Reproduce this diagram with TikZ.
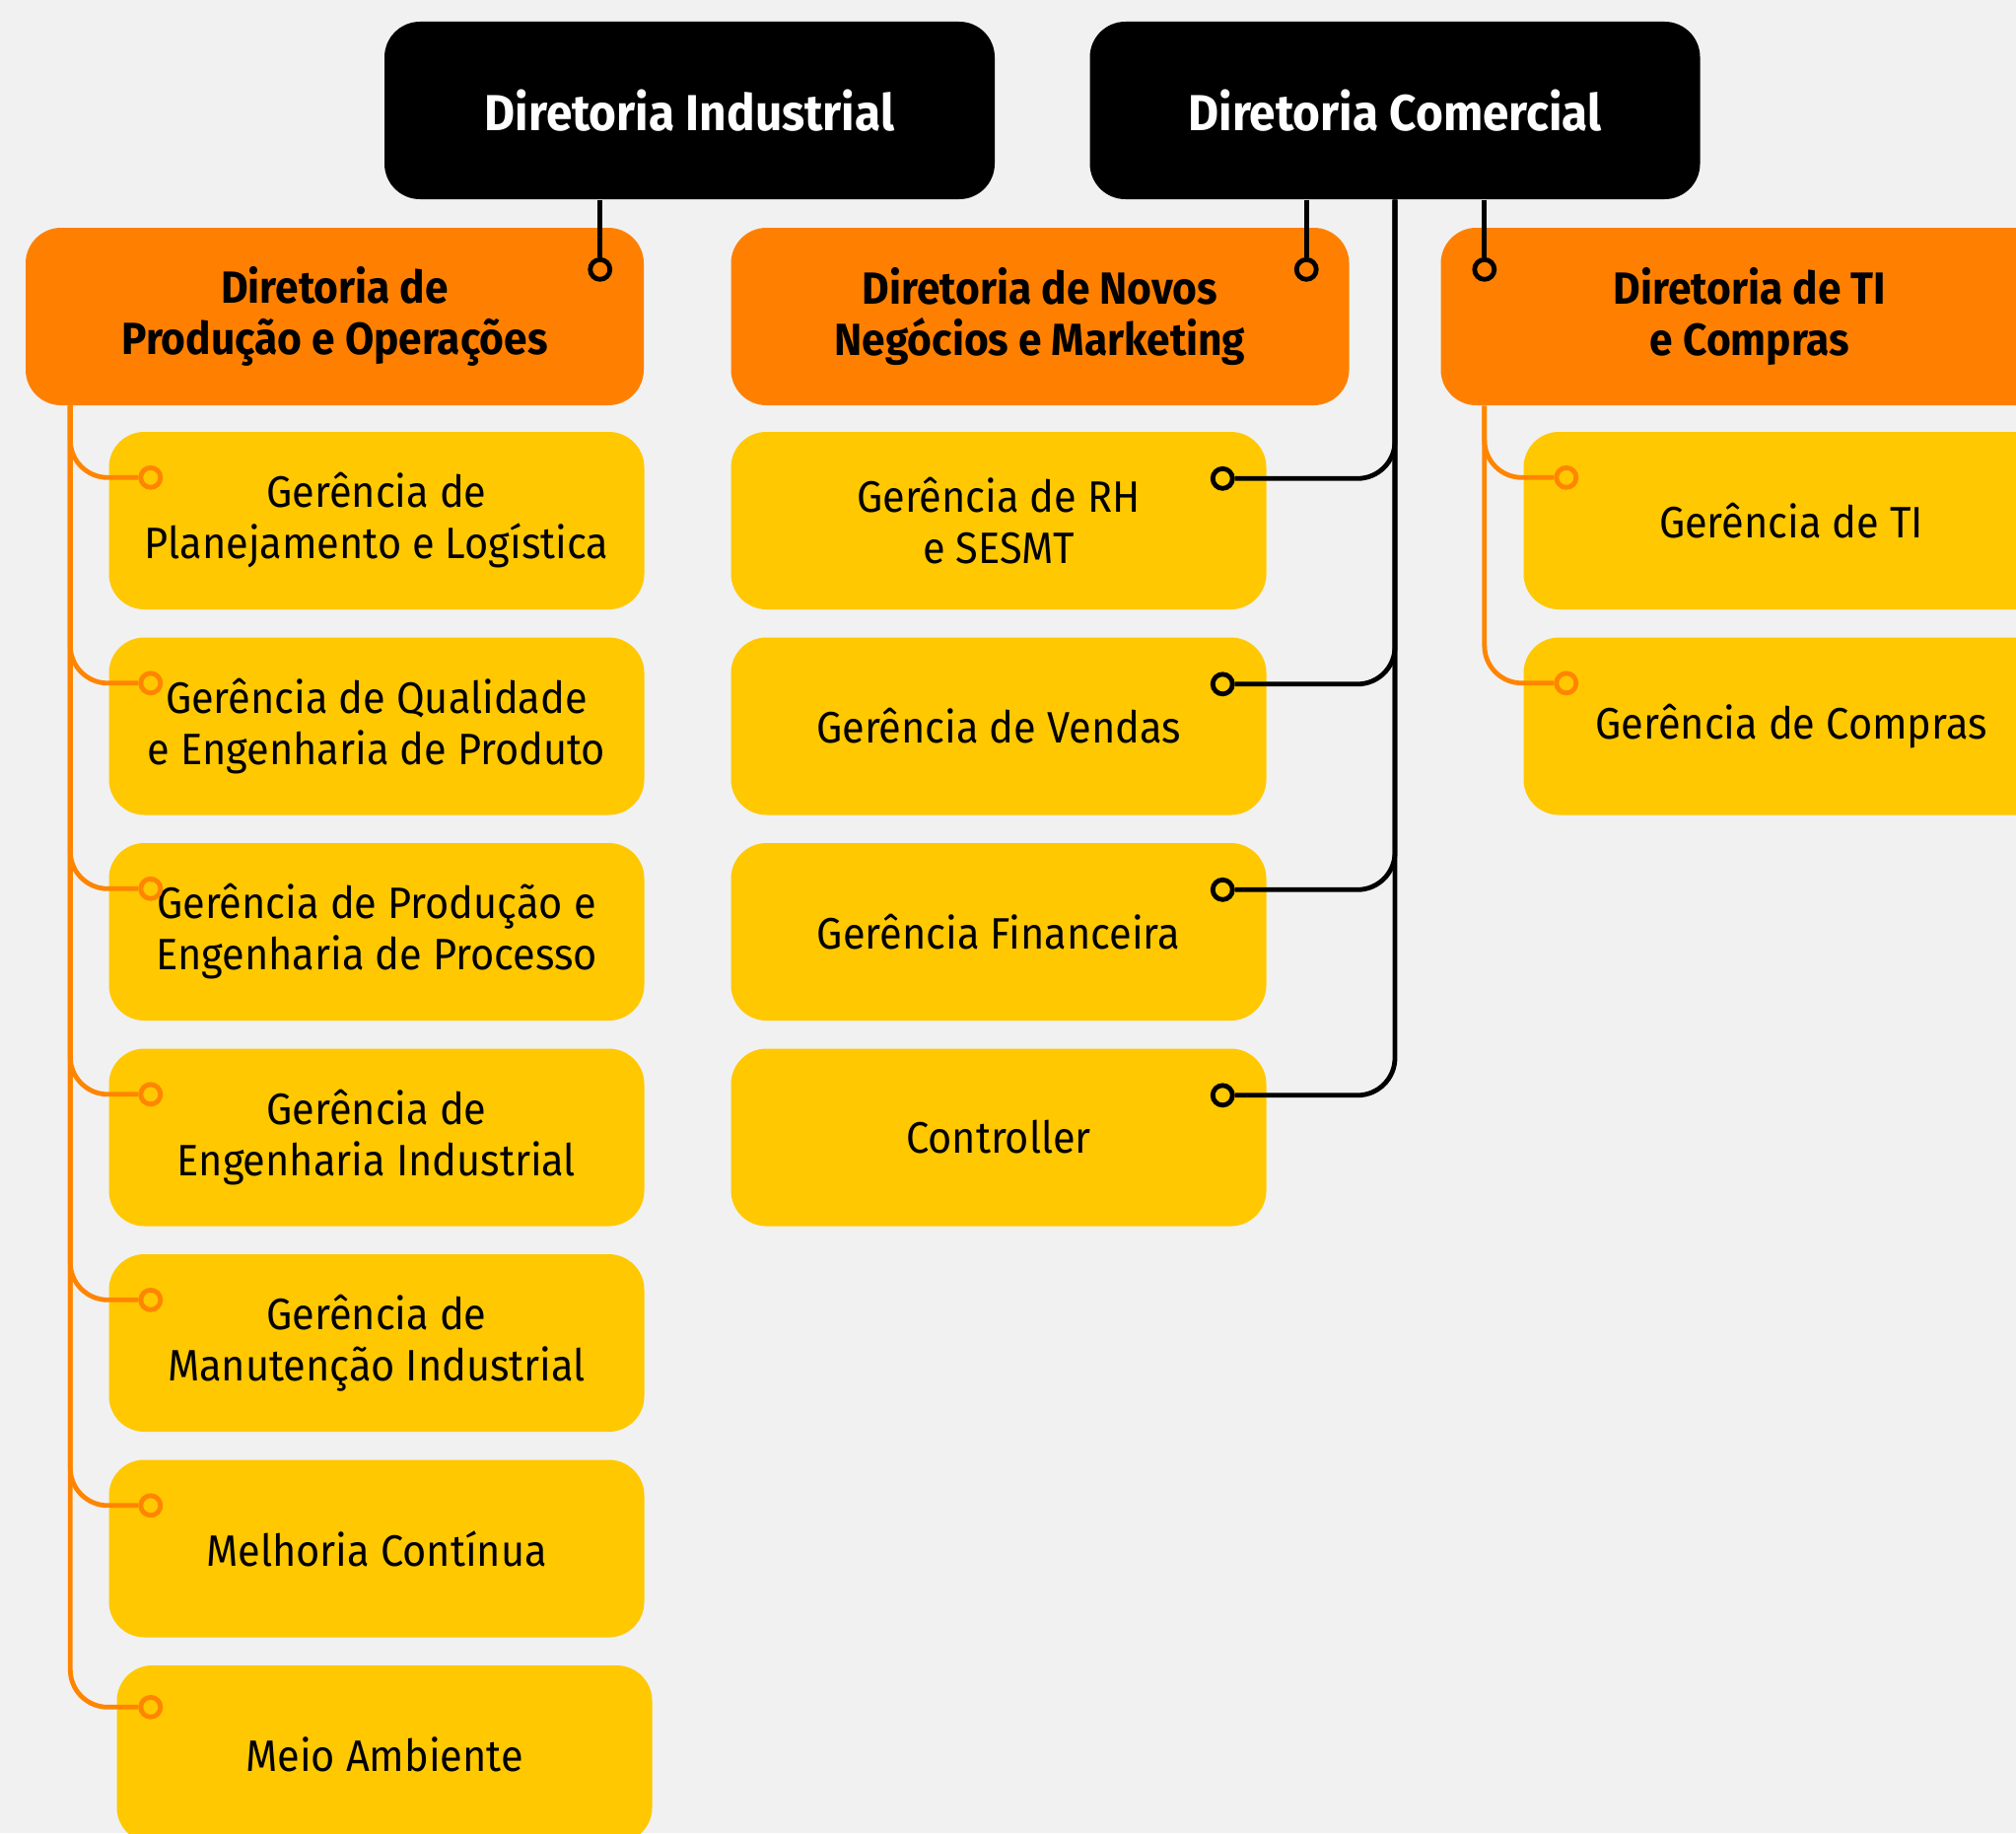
\documentclass[tikz,border=0pt]{standalone}
\usepackage{fontspec}
\setmainfont{Fira Sans}[FakeStretch=0.93]
\usetikzlibrary{positioning}
\definecolor{fundo}{RGB}{241,241,241}
\definecolor{laranja}{RGB}{255,128,0}
\definecolor{amarelo}{RGB}{255,200,0}
\definecolor{linhalar}{RGB}{255,133,0}
\tikzset{
	diretor/.style={rectangle, rounded corners=0.36cm, fill=black, text=white, minimum width=6.19cm, minimum height=1.8cm, align=center, font=\fontsize{14.6}{18}\selectfont\bfseries},
	diretoria/.style={rectangle, rounded corners=0.36cm, fill=laranja, minimum width=6.27cm, minimum height=1.8cm, align=center, font=\fontsize{13}{14.8}\selectfont\bfseries},
	gerencia/.style={rectangle, rounded corners=0.36cm, fill=amarelo, minimum width=5.43cm, minimum height=1.8cm, align=center, font=\fontsize{12.7}{14.8}\selectfont},
	% pontos de ligacao
	bdot/.style={circle, draw=black, fill=laranja, line width=0.048cm, inner sep=0pt, minimum size=0.2cm},
	odot/.style={circle, draw=linhalar, fill=amarelo, line width=0.048cm, inner sep=0pt, minimum size=0.2cm},
}

\begin{document}
\begin{tikzpicture}[node distance=2.085cm]
	\useasboundingbox (0,0) rectangle (20.45,-18.59);
	\clip (0,0) rectangle (20.45,-18.59);
	\fill[fundo] (0,0) rectangle (20.45,-18.59);

	\node (di) [diretor] at (6.995,-1.12) {Diretoria Industrial};
	\node (dc) [diretor] at (14.15,-1.12) {Diretoria Comercial};

	\node (dpo) [diretoria] at (3.395,-3.21) {Diretoria de\\Produção e Operações};
	\node (dnm) [diretoria] at (10.55,-3.21) {Diretoria de Novos\\Negócios e Marketing};
	\node (dti) [diretoria] at (17.75,-3.21) {Diretoria de TI\\e Compras};

	% producao e operacoes
	\node (gpl) [gerencia] at (3.82,-5.28) {Gerência de\\Planejamento e Logística};
	\node (gqe) [gerencia, below of=gpl] {Gerência de Qualidade\\e Engenharia de Produto};
	\node (gpe) [gerencia, below of=gqe] {Gerência de Produção e\\Engenharia de Processo};
	\node (gei) [gerencia, below of=gpe] {Gerência de\\Engenharia Industrial};
	\node (gmi) [gerencia, below of=gei] {Gerência de\\Manutenção Industrial};
	\node (mcn) [gerencia, below of=gmi] {Melhoria Contínua};
	\node (mam) [gerencia, below of=mcn, xshift=0.08cm] {Meio Ambiente};

	% comercial
	\node (grh) [gerencia] at (10.13,-5.28) {Gerência de RH\\e SESMT};
	\node (gve) [gerencia, below of=grh] {Gerência de Vendas};
	\node (gfi) [gerencia, below of=gve] {Gerência Financeira};
	\node (ctl) [gerencia, below of=gfi] {Controller};

	% TI e compras
	\node (gti) [gerencia] at (18.17,-5.28) {Gerência de TI};
	\node (gco) [gerencia, below of=gti] {Gerência de Compras};

	\node (kpo) [bdot] at ([xshift=-0.45cm,yshift=-0.43cm]dpo.north east) {};
	\node (knm) [bdot] at ([xshift=-0.44cm,yshift=-0.43cm]dnm.north east) {};
	\node (kti) [bdot] at ([xshift=0.45cm,yshift=-0.43cm]dti.north west) {};
	\node (krh) [bdot, fill=amarelo] at ([xshift=-0.45cm,yshift=-0.48cm]grh.north east) {};
	\node (kve) [bdot, fill=amarelo] at ([xshift=-0.45cm,yshift=-0.48cm]gve.north east) {};
	\node (kfi) [bdot, fill=amarelo] at ([xshift=-0.45cm,yshift=-0.48cm]gfi.north east) {};
	\node (kct) [bdot, fill=amarelo] at ([xshift=-0.45cm,yshift=-0.48cm]ctl.north east) {};

	\node (kpl) [odot] at ([xshift=0.43cm,yshift=-0.47cm]gpl.north west) {};
	\node (kqe) [odot] at ([xshift=0.43cm,yshift=-0.47cm]gqe.north west) {};
	\node (kpe) [odot] at ([xshift=0.43cm,yshift=-0.47cm]gpe.north west) {};
	\node (kei) [odot] at ([xshift=0.43cm,yshift=-0.47cm]gei.north west) {};
	\node (kmi) [odot] at ([xshift=0.43cm,yshift=-0.47cm]gmi.north west) {};
	\node (kmc) [odot] at ([xshift=0.43cm,yshift=-0.47cm]mcn.north west) {};
	\node (kma) [odot] at ([xshift=0.35cm,yshift=-0.43cm]mam.north west) {};
	\node (kgt) [odot] at ([xshift=0.44cm,yshift=-0.47cm]gti.north west) {};
	\node (kgc) [odot] at ([xshift=0.44cm,yshift=-0.47cm]gco.north west) {};

	\begin{scope}[line width=0.048cm, black, rounded corners=0.38cm]
		\draw (di.south -| kpo) -- (kpo);
		\draw (dc.south -| knm) -- (knm);
		\draw (dc.south -| kti) -- (kti);
		\draw (dc.south) |- (krh);
		\draw (dc.south) |- (kve);
		\draw (dc.south) |- (kfi);
		\draw (dc.south) |- (kct);
	\end{scope}

	\begin{scope}[line width=0.048cm, linhalar, rounded corners=0.38cm]
		\draw ([xshift=0.46cm]dpo.south west) |- (kpl);
		\draw ([xshift=0.46cm]dpo.south west) |- (kqe);
		\draw ([xshift=0.46cm]dpo.south west) |- (kpe);
		\draw ([xshift=0.46cm]dpo.south west) |- (kei);
		\draw ([xshift=0.46cm]dpo.south west) |- (kmi);
		\draw ([xshift=0.46cm]dpo.south west) |- (kmc);
		\draw ([xshift=0.46cm]dpo.south west) |- (kma);
		\draw (dti.south -| kti) |- (kgt);
		\draw (dti.south -| kti) |- (kgc);
	\end{scope}
\end{tikzpicture}
\end{document}
